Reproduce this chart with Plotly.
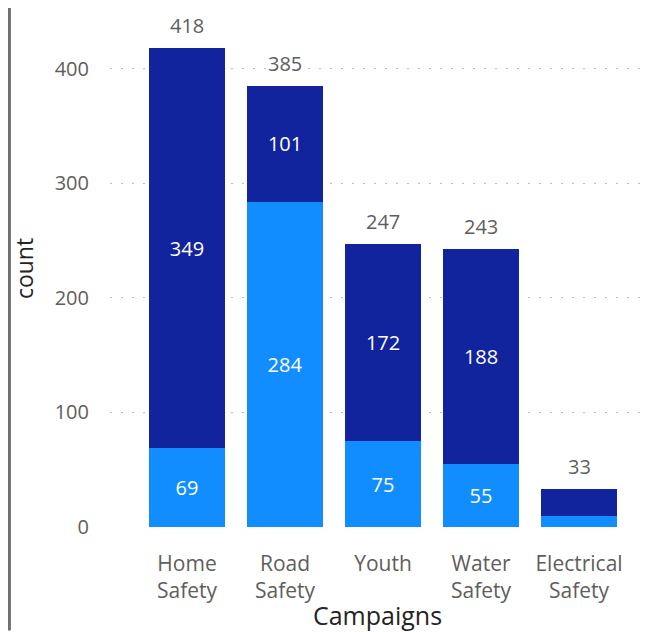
import plotly.graph_objects as go

campaigns = ["Home<br>Safety", "Road<br>Safety", "Youth", "Water<br>Safety", "Electrical<br>Safety"]
lower = [69, 284, 75, 55, 10]
upper = [349, 101, 172, 188, 23]
lower_text = ["69", "284", "75", "55", ""]
upper_text = ["349", "101", "172", "188", ""]
totals = [l + u for l, u in zip(lower, upper)]

font_family = "Segoe UI, Open Sans, sans-serif"
label_size = 20

fig = go.Figure()
fig.add_trace(go.Bar(
    x=campaigns, y=lower, marker_color="#118DFF", marker_line_width=0,
    text=lower_text, textposition="inside", insidetextanchor="middle",
    textfont=dict(color="white", size=label_size, family=font_family),
    textangle=0, hoverinfo="skip",
))
fig.add_trace(go.Bar(
    x=campaigns, y=upper, marker_color="#12239E", marker_line_width=0,
    text=upper_text, textposition="inside", insidetextanchor="middle",
    textfont=dict(color="white", size=label_size, family=font_family),
    textangle=0, hoverinfo="skip",
))

# totals above each stack
for c, t in zip(campaigns, totals):
    fig.add_annotation(x=c, y=t, text=str(t), showarrow=False,
                       yanchor="bottom", yshift=7,
                       font=dict(color="#605E5C", size=label_size, family=font_family))

fig.update_layout(
    barmode="stack", bargap=0.23, showlegend=False,
    width=641, height=624,
    margin=dict(l=102, r=4, t=2, b=105, autoexpand=False),
    paper_bgcolor="white", plot_bgcolor="white",
    font=dict(family=font_family, color="#605E5C", size=20),
    uniformtext=dict(mode="show", minsize=10),
)
fig.update_xaxes(
    range=[-0.786, 4.673], showgrid=False, zeroline=False, showline=False,
    ticks="", ticklabelstandoff=22, tickfont=dict(size=21, color="#605E5C"),
    title=dict(text="Campaigns", font=dict(size=25, color="#252423"), standoff=8),
)
fig.update_yaxes(
    range=[0, 451.5], tickvals=[0, 100, 200, 300, 400],
    showgrid=True, gridcolor="#BDBDBD", griddash="2px,9px", gridwidth=1,
    zeroline=False, showline=False, ticks="", ticklabelstandoff=20,
    tickfont=dict(size=20, color="#605E5C"),
    title=dict(text="count", font=dict(size=23, color="#252423"), standoff=14),
)
# frame edge on the left
fig.add_shape(type="line", xref="paper", yref="paper",
              x0=-0.188, x1=-0.188, y0=-0.2, y1=1.01,
              line=dict(color="#707070", width=3))

fig.write_html("out.html")
